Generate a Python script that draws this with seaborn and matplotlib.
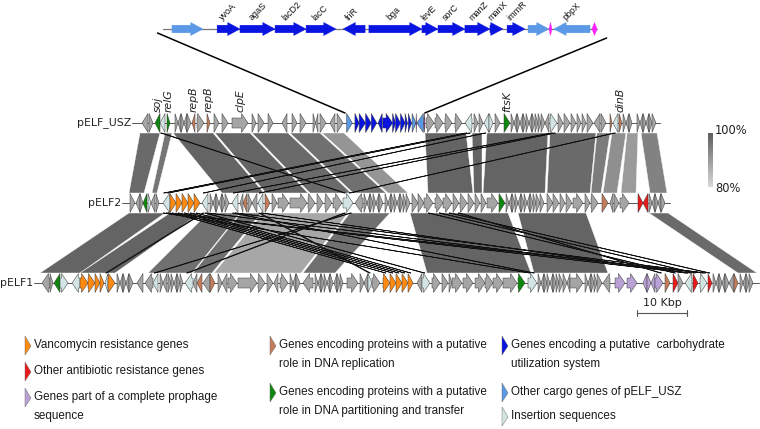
import numpy as np
import pandas as pd
import seaborn as sns
import matplotlib.pyplot as plt
from matplotlib.patches import Polygon, ConnectionPatch
from matplotlib.colors import LinearSegmentedColormap, Normalize
from matplotlib.cm import ScalarMappable

sns.set_theme(style="white")
plt.rcParams['font.family'] = ['DejaVu Sans']

# ---------------- data (positions in kbp) ----------------
track_names = ["pELF_USZ", "pELF2", "pELF1"]
track_lengths = [104.0, 108.0, 143.4]
track_offsets = [19.6, 17.6, 0.0]      # horizontal alignment of the tracks

# zoomed carbohydrate region of pELF_USZ (kbp from region start)
inset_start = 41.4
inset_length = 15.96
inset_genes = [
    (0.33, 1.47, 1, 'l', ""), (1.99, 2.83, 1, 'c', "yvoA"), (2.83, 4.12, 1, 'c', "agaS"),
    (4.12, 5.26, 1, 'c', "lacD2"), (5.26, 6.36, 1, 'c', "lacC"), (6.62, 7.43, -1, 'c', "friR"),
    (7.57, 9.52, 1, 'c', "bga"), (9.52, 10.11, 1, 'c', "levE"), (10.11, 11.10, 1, 'c', "sorC"),
    (11.10, 12.02, 1, 'c', "manZ"), (12.02, 12.50, 1, 'c', "manX"), (12.65, 13.31, 1, 'c', "immR"),
    (13.42, 14.19, 1, 'l', ""), (14.19, 14.30, 0, 'm', ""), (14.37, 15.70, -1, 'l', "pbpX"),
    (15.77, 15.96, 0, 'm', ""),
]

usz_left = [
    (0.8, 2.0, -1, 'o'), (2.2, 3.0, 1, 'o'), (3.4, 4.4, -1, 'g'), (4.4, 5.4, -1, 'i'),
    (5.8, 6.4, 1, 'g'), (7.4, 8.0, 1, 'o'), (8.0, 8.6, -1, 'o'), (8.6, 9.2, 1, 'o'), (9.2, 9.8, -1, 'o'),
    (9.8, 10.6, 1, 'o'), (10.8, 11.4, -1, 'b'), (11.8, 13.2, 1, 'o'), (13.8, 14.4, 1, 'b'),
    (15.2, 16.2, 1, 'o'), (16.8, 18.0, 1, 'o'), (18.8, 22.0, 1, 'o'), (22.8, 23.6, 1, 'o'),
    (24.0, 25.2, 1, 'o'), (26.0, 27.0, 1, 'o'), (28.8, 29.8, -1, 'o'), (30.8, 31.8, 1, 'o'),
    (32.4, 33.6, 1, 'o'), (35.0, 35.5, 1, 'o'), (35.5, 36.0, -1, 'o'), (36.4, 37.6, 1, 'o'),
    (38.4, 39.4, -1, 'o'), (39.8, 41.0, 1, 'o'),
]
usz_right = [
    (57.6, 59.2, 1, 'o'), (59.4, 61.0, 1, 'o'), (61.4, 62.8, 1, 'o'), (63.4, 64.8, 1, 'o'),
    (65.4, 66.8, -1, 'i'), (67.2, 68.0, 1, 'o'), (68.2, 69.0, 1, 'o'), (69.2, 70.2, -1, 'i'),
    (70.2, 71.0, 1, 'i'), (71.4, 72.4, 1, 'o'), (73.2, 74.4, 1, 'g'),
    (74.6, 75.2, 1, 'o'), (75.2, 75.8, -1, 'o'), (75.8, 76.4, 1, 'o'), (76.4, 77.0, -1, 'o'),
    (77.0, 77.6, 1, 'o'), (77.6, 78.2, 1, 'o'), (78.2, 78.8, -1, 'o'), (78.8, 79.4, 1, 'o'),
    (79.4, 80.0, 1, 'o'), (80.0, 80.6, 1, 'o'), (80.6, 81.4, 1, 'o'), (81.4, 82.2, -1, 'o'),
    (82.4, 83.8, 1, 'i'), (84.0, 85.0, 1, 'o'), (85.2, 86.4, 1, 'o'), (86.6, 87.6, 1, 'o'),
    (87.8, 88.6, 1, 'o'), (88.8, 89.6, 1, 'o'), (89.8, 91.0, 1, 'o'), (91.2, 92.4, -1, 'o'),
    (92.6, 93.6, 1, 'o'), (94.4, 94.8, 1, 'b'), (95.0, 96.0, -1, 'i'), (96.2, 96.8, 1, 'b'),
    (97.0, 97.6, 1, 'o'), (97.6, 98.2, -1, 'o'), (98.2, 98.8, 1, 'o'), (99.8, 100.4, 1, 'o'),
    (100.4, 101.0, -1, 'o'), (101.0, 101.6, 1, 'o'), (101.6, 102.2, -1, 'o'), (102.2, 102.8, 1, 'o'),
    (102.8, 103.6, 1, 'o'),
]
usz_labels = [("soj", 3.9), ("relG", 6.1), ("repB", 11.1), ("repB", 14.1),
              ("clpE", 20.4), ("ftsK", 73.8), ("dinB", 96.5)]

pelf2_genes = [
    (0.4, 1.4, 1, 'o'), (1.6, 2.4, -1, 'o'), (2.4, 3.0, 1, 'o'), (3.0, 3.8, -1, 'g'),
    (4.0, 4.6, 1, 'i'), (4.6, 5.4, -1, 'o'), (5.6, 6.2, 1, 'o'), (7.0, 8.4, -1, 'i'),
    (8.4, 9.6, 1, 'v'), (9.6, 10.8, 1, 'v'), (10.8, 12.0, 1, 'v'), (12.0, 13.2, 1, 'v'),
    (13.2, 14.4, 1, 'v'), (14.8, 16.0, -1, 'i'),
    (16.4, 17.0, 1, 'o'), (17.0, 17.6, -1, 'o'), (17.6, 18.2, 1, 'o'), (18.2, 18.8, -1, 'o'),
    (18.8, 19.4, 1, 'o'), (19.4, 20.2, 1, 'o'), (20.8, 22.0, -1, 'i'), (22.4, 23.0, -1, 'o'),
    (23.0, 23.8, -1, 'b'), (24.0, 24.8, 1, 'o'), (24.8, 25.8, -1, 'o'), (26.0, 27.0, -1, 'i'),
    (27.4, 28.4, 1, 'b'), (28.8, 29.8, 1, 'o'), (30.0, 32.2, 1, 'o'), (32.4, 35.8, 1, 'o'),
    (36.0, 37.4, 1, 'o'), (37.8, 39.0, 1, 'o'), (39.4, 40.8, 1, 'o'), (41.0, 42.8, 1, 'o'),
    (43.0, 45.0, 1, 'i'), (45.4, 47.0, -1, 'o'),
    (47.2, 47.8, 1, 'o'), (47.8, 48.4, -1, 'o'), (48.4, 49.0, 1, 'o'), (49.0, 49.6, 1, 'o'),
    (49.6, 50.2, -1, 'o'), (50.2, 51.0, 1, 'o'), (51.4, 52.0, 1, 'o'), (52.0, 52.6, -1, 'o'),
    (52.6, 53.2, 1, 'o'), (53.2, 53.8, 1, 'o'), (53.8, 54.4, -1, 'o'), (54.4, 55.0, 1, 'o'),
    (55.0, 55.6, 1, 'o'), (55.6, 56.4, 1, 'o'),
    (56.8, 58.0, 1, 'o'), (58.0, 59.2, 1, 'o'), (59.2, 61.0, 1, 'o'), (61.4, 63.0, 1, 'o'),
    (63.0, 64.8, 1, 'o'), (65.0, 66.2, 1, 'o'), (66.4, 67.8, 1, 'o'), (68.0, 69.2, 1, 'o'),
    (69.4, 70.4, 1, 'o'), (70.6, 71.6, 1, 'o'), (71.8, 74.0, 1, 'o'), (74.2, 75.4, 1, 'g'),
    (75.6, 76.2, 1, 'o'), (76.2, 76.8, -1, 'o'), (76.8, 77.4, 1, 'o'), (77.4, 78.0, 1, 'o'),
    (78.0, 78.6, -1, 'o'), (78.6, 79.2, 1, 'o'), (79.2, 79.8, 1, 'o'), (79.8, 80.4, -1, 'o'),
    (80.4, 81.0, 1, 'o'), (81.0, 81.6, 1, 'o'), (81.6, 82.4, 1, 'o'), (82.4, 83.2, 1, 'o'),
    (83.8, 85.0, 1, 'o'), (85.0, 86.2, 1, 'o'), (86.4, 87.4, 1, 'o'), (87.6, 88.8, 1, 'o'),
    (89.0, 91.0, 1, 'o'), (91.4, 92.4, 1, 'o'), (92.6, 94.0, 1, 'o'), (94.8, 96.0, 1, 'b'),
    (96.4, 97.0, -1, 'o'), (97.2, 98.2, 1, 'o'), (98.4, 100.2, 1, 'o'),
    (102.0, 103.0, 1, 'r'), (103.0, 104.0, -1, 'r'),
    (104.2, 104.8, 1, 'o'), (104.8, 105.4, -1, 'o'), (105.4, 106.0, 1, 'o'), (106.0, 106.6, -1, 'o'),
    (106.6, 107.4, 1, 'o'),
]

pelf1_genes = [
    (0.4, 2.0, -1, 'o'), (2.0, 2.6, 1, 'o'), (2.8, 4.0, -1, 'g'), (4.0, 5.6, 1, 'i'), (6.4, 8.0, -1, 'i'),
    (8.0, 9.6, 1, 'v'), (9.6, 11.0, 1, 'v'), (11.0, 12.0, 1, 'v'), (12.0, 12.8, 1, 'v'),
    (13.0, 13.6, -1, 'i'), (13.6, 15.0, 1, 'v'),
    (15.4, 16.0, 1, 'o'), (16.0, 16.6, -1, 'o'), (16.6, 17.2, 1, 'o'), (17.2, 17.8, -1, 'o'),
    (17.8, 18.6, 1, 'o'), (19.4, 20.6, -1, 'o'), (21.0, 22.6, -1, 'o'), (22.6, 23.6, -1, 'i'),
    (24.0, 24.6, 1, 'o'), (24.6, 25.4, -1, 'o'), (25.6, 26.2, 1, 'o'), (26.2, 26.8, 1, 'o'),
    (26.8, 27.4, -1, 'o'), (27.4, 28.0, 1, 'o'), (28.0, 28.6, 1, 'o'), (29.0, 30.6, -1, 'i'),
    (30.6, 31.4, -1, 'o'), (31.4, 32.4, -1, 'b'), (32.6, 34.0, -1, 'o'), (34.0, 35.0, 1, 'b'),
    (35.6, 36.4, 1, 'o'), (36.4, 37.4, -1, 'o'), (37.6, 39.4, 1, 'o'), (39.6, 43.4, 1, 'o'),
    (43.6, 45.0, 1, 'o'), (45.4, 46.6, 1, 'o'), (46.8, 47.6, -1, 'o'), (48.0, 49.6, 1, 'o'),
    (50.0, 50.6, 1, 'o'), (50.6, 51.2, -1, 'o'), (51.2, 52.0, 1, 'o'), (52.6, 54.6, -1, 'o'),
    (55.0, 55.6, 1, 'o'), (55.6, 56.2, -1, 'o'), (56.2, 56.8, 1, 'o'), (56.8, 57.4, 1, 'o'),
    (57.4, 58.0, -1, 'o'), (58.0, 58.6, 1, 'o'), (58.8, 59.4, -1, 'o'), (59.4, 60.0, 1, 'o'),
    (60.0, 60.6, 1, 'o'), (61.4, 63.6, 1, 'o'), (64.0, 64.8, 1, 'o'), (64.8, 65.6, -1, 'o'),
    (65.6, 66.4, 1, 'i'), (66.4, 68.0, 1, 'o'),
    (68.6, 70.0, 1, 'v'), (70.0, 71.2, 1, 'v'), (71.2, 72.4, 1, 'v'), (72.4, 73.6, 1, 'v'),
    (73.6, 74.6, 1, 'v'), (75.4, 76.4, -1, 'o'), (76.4, 78.0, 1, 'i'), (78.4, 80.0, 1, 'o'),
    (80.4, 81.6, 1, 'o'), (81.8, 82.4, 1, 'o'), (82.4, 84.4, 1, 'o'), (84.6, 86.6, 1, 'o'),
    (87.0, 89.0, 1, 'o'), (89.0, 90.6, 1, 'o'), (90.6, 92.6, 1, 'o'), (92.6, 95.4, 1, 'o'),
    (95.6, 97.0, 1, 'g'), (97.6, 99.4, 1, 'i'),
    (99.6, 100.2, 1, 'o'), (100.2, 100.8, -1, 'o'), (100.8, 101.4, 1, 'o'), (101.4, 102.0, 1, 'o'),
    (102.0, 102.6, -1, 'o'), (102.6, 103.2, 1, 'o'), (103.2, 103.8, 1, 'o'), (103.8, 104.6, 1, 'o'),
    (104.6, 105.4, 1, 'o'), (105.4, 106.0, -1, 'o'), (106.0, 108.6, 1, 'o'),
    (109.0, 109.6, 1, 'o'), (109.6, 110.2, -1, 'o'), (110.2, 110.8, 1, 'o'), (110.8, 111.4, 1, 'o'),
    (111.4, 112.4, 1, 'o'), (112.6, 114.0, -1, 'o'),
    (115.0, 117.0, 1, 'p'), (117.4, 119.4, 1, 'p'), (120.6, 121.4, -1, 'p'), (121.4, 122.2, 1, 'p'),
    (122.2, 123.0, -1, 'p'), (123.0, 124.6, 1, 'p'),
    (125.0, 126.0, 1, 'b'), (126.6, 127.6, 1, 'r'), (127.6, 128.6, 1, 'o'), (129.0, 130.4, -1, 'i'),
    (130.6, 131.6, 1, 'r'), (132.0, 133.4, 1, 'i'), (133.6, 134.4, 1, 'r'),
    (134.6, 135.2, 1, 'o'), (135.2, 135.8, -1, 'o'), (135.8, 136.4, 1, 'o'), (136.4, 137.0, -1, 'o'),
    (137.0, 137.8, 1, 'o'), (137.8, 138.8, -1, 'o'), (138.8, 139.6, 1, 'b'),
    (140.0, 140.6, 1, 'o'), (140.6, 141.2, -1, 'o'), (141.2, 141.8, 1, 'o'), (141.8, 142.6, 1, 'o'),
]

# BLAST hits: (start upper, end upper, start lower, end lower, identity %)
usz_pelf2_hits = [
    (0.4, 4.4, 0.2, 3.2, 98), (5.4, 6.8, 4.8, 5.8, 96),
    (7.0, 15.0, 18.8, 27.2, 99), (15.4, 22.4, 27.6, 36.0, 99), (22.8, 30.0, 36.4, 44.6, 98),
    (30.4, 36.4, 45.0, 51.6, 97), (36.8, 41.2, 52.0, 56.0, 91),
    (57.4, 65.6, 60.0, 69.0, 99), (66.8, 68.8, 69.2, 70.8, 99), (69.8, 82.0, 71.0, 83.4, 99),
    (82.4, 91.6, 83.8, 92.4, 98), (91.8, 94.4, 92.6, 94.6, 95), (94.8, 97.6, 95.0, 97.8, 92),
    (97.8, 100.0, 98.6, 101.6, 90), (100.6, 103.8, 104.4, 107.8, 94),
    (65.5, 65.8, 7.1, 7.4, 99), (66.2, 66.5, 7.9, 8.2, 99), (69.3, 69.6, 15.0, 15.3, 99),
    (82.6, 82.9, 21.0, 21.3, 99), (83.2, 83.5, 26.2, 26.5, 99), (4.5, 4.8, 43.2, 43.5, 99),
    (95.2, 95.5, 44.2, 44.5, 99),
]
pelf2_pelf1_hits = [
    (0.2, 7.4, 0.0, 8.0, 99), (8.4, 14.4, 8.0, 15.0, 99), (16.0, 22.4, 21.6, 30.4, 97),
    (22.6, 26.6, 30.6, 34.4, 97), (27.0, 44.0, 34.8, 52.2, 88), (44.4, 52.4, 52.6, 59.0, 97),
    (56.4, 76.0, 77.4, 98.2, 99), (78.0, 91.6, 98.8, 113.6, 99), (104.2, 108.0, 139.6, 143.4, 98),
    (7.0, 7.3, 97.8, 98.1, 99), (7.6, 7.9, 129.3, 129.6, 99), (8.0, 8.3, 132.4, 132.7, 99),
    (14.9, 15.2, 13.1, 13.4, 99), (15.3, 15.6, 76.7, 77.0, 99), (15.7, 16.0, 130.0, 130.3, 99),
    (20.9, 21.2, 98.6, 98.9, 99), (21.4, 21.7, 132.9, 133.2, 99), (26.1, 26.4, 65.8, 66.1, 99),
    (26.6, 26.9, 129.0, 129.3, 99), (43.2, 43.5, 29.3, 29.6, 99), (44.4, 44.7, 22.8, 23.1, 99),
    (8.8, 9.0, 69.0, 69.2, 99), (10.0, 10.2, 70.4, 70.6, 99), (11.2, 11.4, 71.6, 71.8, 99),
    (12.4, 12.6, 72.8, 73.0, 99), (13.6, 13.8, 74.0, 74.2, 99),
    (60.0, 60.3, 126.8, 127.1, 99), (62.2, 62.5, 130.8, 131.1, 99), (64.2, 64.5, 133.7, 134.0, 99),
    (66.0, 66.3, 124.0, 124.3, 99),
]

scale_start = 119.4
scale_kbp = 10

cat_colors = {'o': '#a5a5a5', 'v': '#ff8a12', 'r': '#ea1a1a', 'p': '#b9a1d6', 'b': '#c47d5b',
              'g': '#0d870d', 'c': '#0a14e0', 'l': '#5b98e6', 'i': '#d2e4e4', 'm': '#ff20ff'}
legend_items = [
    ('v', ["Vancomycin resistance genes"]),
    ('r', ["Other antibiotic resistance genes"]),
    ('p', ["Genes part of a complete prophage", "sequence"]),
    ('b', ["Genes encoding proteins with a putative", "role in DNA replication"]),
    ('g', ["Genes encoding proteins with a putative", "role in DNA partitioning and transfer"]),
    ('c', ["Genes encoding a putative  carbohydrate", "utilization system"]),
    ('l', ["Other cargo genes of pELF_USZ"]),
    ('i', ["Insertion sequences"]),
]

# ---------------- drawing ----------------
usz_genes = usz_left + [(s + inset_start, e + inset_start, st, c) for s, e, st, c, _ in inset_genes] + usz_right
track_genes = [usz_genes, pelf2_genes, pelf1_genes]
track_y = [123, 203, 283]
half_h, body_h, head_len = 9.5, 5.0, 1.3

ident_cmap = LinearSegmentedColormap.from_list("ident", ["#d8d8d8", "#5e5e5e"])
ident_norm = Normalize(80, 100)


def arrow_poly(start, end, strand, y, h, body, head):
    if strand == 0:
        m = (start + end) / 2
        return [(start, y), (m, y - h), (end, y), (m, y + h)]
    hl = min(head, end - start)
    if strand > 0:
        b = end - hl
        return [(start, y - body), (b, y - body), (b, y - h), (end, y),
                (b, y + h), (b, y + body), (start, y + body)]
    b = start + hl
    return [(end, y - body), (b, y - body), (b, y - h), (start, y),
            (b, y + h), (b, y + body), (end, y + body)]


fig = plt.figure(figsize=(7.6, 4.29), dpi=100)
ax = fig.add_axes([0, 0, 1, 1])
ax.set_xlim(-8, 144)
ax.set_ylim(429, 0)
ax.axis('off')

# comparison polygons
for k, hits in enumerate([usz_pelf2_hits, pelf2_pelf1_hits]):
    o1, o2 = track_offsets[k], track_offsets[k + 1]
    ya, yb = track_y[k] + 10, track_y[k + 1] - 10
    for s1, e1, s2, e2, idn in hits:
        pts = [(s1 + o1, ya), (e1 + o1, ya), (e2 + o2, yb), (s2 + o2, yb)]
        thin = (e1 - s1) < 1
        ax.add_patch(Polygon(pts, closed=True, fc=ident_cmap(ident_norm(idn)),
                             ec='#111111' if thin else 'white', lw=0.5 if thin else 0.3, zorder=1))

# tracks
for name, length, off, y, genes in zip(track_names, track_lengths, track_offsets, track_y, track_genes):
    ax.plot([off - 1.2, off + length + 0.4], [y, y], color='#555555', lw=0.7, zorder=2)
    for s, e, st, c in genes:
        ax.add_patch(Polygon(arrow_poly(s + off, e + off, st, y, half_h, body_h, head_len), closed=True,
                             fc=cat_colors[c], ec='#3a3a3a', lw=0.35, zorder=3))
    ax.text(off - 1.4, y, name, ha='right', va='center', fontsize=7.8, color='#222222')

for lab, pos in usz_labels:
    ax.text(pos + track_offsets[0], track_y[0] - 11, lab, rotation=90, ha='center', va='bottom',
            fontsize=7.8, style='italic', color='#222222')

# scale bar
sy = 313
ax.plot([scale_start, scale_start + scale_kbp], [sy, sy], color='#555555', lw=0.8)
for xx in (scale_start, scale_start + scale_kbp):
    ax.plot([xx, xx], [sy - 3, sy + 3], color='#555555', lw=0.8)
ax.text(scale_start + scale_kbp / 2, sy - 5, "10 Kbp", ha='center', va='bottom', fontsize=8, color='#222222')

# inset (zoomed carbohydrate utilization region)
ax_in = fig.add_axes([0, 0, 1, 1], facecolor='none')
ax_in.set_xlim(-163 / 27.2, (760 - 163) / 27.2)
ax_in.set_ylim(429, 0)
ax_in.axis('off')
iy = 29
ax_in.plot([0, inset_length], [iy, iy], color='#777777', lw=0.9, zorder=2)
for s, e, st, c, nm in inset_genes:
    ax_in.add_patch(Polygon(arrow_poly(s, e, st, iy, 6.5, 3.8, 0.45), closed=True,
                            fc=cat_colors[c], ec=cat_colors[c], lw=0.3, zorder=3))
    if nm:
        ax_in.text((s + e) / 2 - 0.15, iy - 6.8, nm, rotation=45, rotation_mode='anchor',
                   ha='left', va='bottom', fontsize=6.5, family='Liberation Sans', color='#111111')

for xa, ya_, xb in [(-0.2, iy + 4, inset_start), (inset_length + 0.35, iy + 9, inset_start + inset_length)]:
    con = ConnectionPatch(xyA=(xa, ya_), coordsA=ax_in.transData,
                          xyB=(xb + track_offsets[0], track_y[0] - 10), coordsB=ax.transData,
                          color='black', lw=1.1)
    fig.add_artist(con)

# identity colour bar
cax = fig.add_axes([708 / 760, 1 - 187 / 429, 5 / 760, 54 / 429])
cb = fig.colorbar(ScalarMappable(norm=ident_norm, cmap=ident_cmap), cax=cax)
cb.set_ticks([])
cb.outline.set_visible(False)

# legend / annotation layer in pixel units
ax_l = fig.add_axes([0, 0, 1, 1], facecolor='none')
ax_l.set_xlim(0, 760)
ax_l.set_ylim(429, 0)
ax_l.axis('off')
ax_l.text(715, 130, "100%", ha='left', va='center', fontsize=8.3, color='#222222')
ax_l.text(715, 188, "80%", ha='left', va='center', fontsize=8.3, color='#222222')

col_x = [25, 270, 502]
item_pos = [(0, 345), (0, 371), (0, 397), (1, 345), (1, 392), (2, 345), (2, 392), (2, 416)]
for (c, lines), (ci, yy) in zip(legend_items, item_pos):
    x0 = col_x[ci]
    ax_l.add_patch(Polygon([(x0, yy - 9), (x0 + 6, yy + 1), (x0, yy + 10)], closed=True,
                           fc=cat_colors[c], ec='#666666', lw=0.3))
    for j, t in enumerate(lines):
        ax_l.text(x0 + 9, yy + j * 19, t, ha='left', va='center', fontsize=8.4,
                  family='Liberation Sans', color='#1a1a1a')

fig.savefig("out.png", dpi=100)
